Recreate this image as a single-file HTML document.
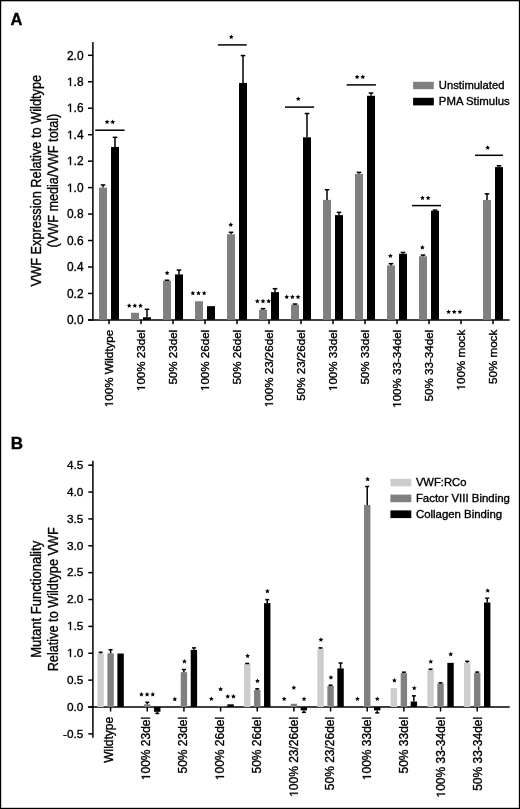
<!DOCTYPE html>
<html><head><meta charset="utf-8"><title>VWF chart</title>
<style>
html,body{margin:0;padding:0;background:#fff;}
body{width:520px;height:809px;overflow:hidden;}
svg{display:block;font-family:"Liberation Sans", sans-serif;filter:grayscale(1);}
text{stroke:#000;stroke-width:0.35px;}
.one polygon{fill:#000;stroke:#000;stroke-width:0.35px;}
</style></head>
<body>
<svg width="520" height="809" viewBox="0 0 520 809">
<rect x="0" y="0" width="520" height="809" fill="#fff"/>
<rect x="0.00" y="0.00" width="520.00" height="1.30" fill="#000"/>
<rect x="0.00" y="0.00" width="1.20" height="809.00" fill="#000"/>
<rect x="518.85" y="0.00" width="1.15" height="809.00" fill="#000"/>
<rect x="0.00" y="807.80" width="520.00" height="1.20" fill="#000"/>
<text x="10.60" y="25.30" font-size="16.5" text-anchor="start" font-weight="bold">A</text>
<line x1="92.90" y1="42.00" x2="92.90" y2="320.65" stroke="#000" stroke-width="1.5"/>
<line x1="88.00" y1="319.90" x2="509.60" y2="319.90" stroke="#000" stroke-width="1.5"/>
<line x1="88.00" y1="319.90" x2="92.90" y2="319.90" stroke="#000" stroke-width="1.5"/>
<text x="83.50" y="324.10" font-size="11.9" text-anchor="end">0.0</text>
<line x1="88.00" y1="293.44" x2="92.90" y2="293.44" stroke="#000" stroke-width="1.5"/>
<text x="83.50" y="297.64" font-size="11.9" text-anchor="end">0.2</text>
<line x1="88.00" y1="266.98" x2="92.90" y2="266.98" stroke="#000" stroke-width="1.5"/>
<text x="83.50" y="271.18" font-size="11.9" text-anchor="end">0.4</text>
<line x1="88.00" y1="240.52" x2="92.90" y2="240.52" stroke="#000" stroke-width="1.5"/>
<text x="83.50" y="244.72" font-size="11.9" text-anchor="end">0.6</text>
<line x1="88.00" y1="214.06" x2="92.90" y2="214.06" stroke="#000" stroke-width="1.5"/>
<text x="83.50" y="218.26" font-size="11.9" text-anchor="end">0.8</text>
<line x1="88.00" y1="187.60" x2="92.90" y2="187.60" stroke="#000" stroke-width="1.5"/>
<text x="83.50" y="191.80" font-size="11.9" text-anchor="end"> .0</text>
<line x1="88.00" y1="161.14" x2="92.90" y2="161.14" stroke="#000" stroke-width="1.5"/>
<text x="83.50" y="165.34" font-size="11.9" text-anchor="end"> .2</text>
<line x1="88.00" y1="134.68" x2="92.90" y2="134.68" stroke="#000" stroke-width="1.5"/>
<text x="83.50" y="138.88" font-size="11.9" text-anchor="end"> .4</text>
<line x1="88.00" y1="108.22" x2="92.90" y2="108.22" stroke="#000" stroke-width="1.5"/>
<text x="83.50" y="112.42" font-size="11.9" text-anchor="end"> .6</text>
<line x1="88.00" y1="81.76" x2="92.90" y2="81.76" stroke="#000" stroke-width="1.5"/>
<text x="83.50" y="85.96" font-size="11.9" text-anchor="end"> .8</text>
<line x1="88.00" y1="55.30" x2="92.90" y2="55.30" stroke="#000" stroke-width="1.5"/>
<text x="83.50" y="59.50" font-size="11.9" text-anchor="end">2.0</text>
<text x="40.60" y="180.60" font-size="14.6" text-anchor="middle" textLength="211.60" lengthAdjust="spacingAndGlyphs" transform="rotate(-90 40.60 180.60)">VWF Expression Relative to Wildtype</text>
<text x="58.40" y="180.60" font-size="14.6" text-anchor="middle" textLength="133.80" lengthAdjust="spacingAndGlyphs" transform="rotate(-90 58.40 180.60)">(VWF media/VWF total)</text>
<line x1="109.00" y1="319.90" x2="109.00" y2="324.20" stroke="#000" stroke-width="1.5"/>
<text x="113.20" y="329.80" font-size="11.6" text-anchor="end" transform="rotate(-90 113.20 329.80)"> 00% Wildtype</text>
<rect x="99.00" y="187.60" width="8.00" height="132.30" fill="#808080"/>
<line x1="103.00" y1="187.60" x2="103.00" y2="184.95" stroke="#000" stroke-width="1.5"/>
<line x1="100.70" y1="184.95" x2="105.30" y2="184.95" stroke="#000" stroke-width="1.5"/>
<rect x="111.00" y="146.98" width="8.00" height="172.92" fill="#000"/>
<line x1="115.00" y1="146.98" x2="115.00" y2="137.33" stroke="#000" stroke-width="1.5"/>
<line x1="112.70" y1="137.33" x2="117.30" y2="137.33" stroke="#000" stroke-width="1.5"/>
<line x1="141.00" y1="319.90" x2="141.00" y2="324.20" stroke="#000" stroke-width="1.5"/>
<text x="145.20" y="329.80" font-size="11.6" text-anchor="end" transform="rotate(-90 145.20 329.80)"> 00% 23del</text>
<rect x="131.00" y="312.76" width="8.00" height="7.14" fill="#808080"/>
<rect x="143.00" y="317.25" width="8.00" height="2.65" fill="#000"/>
<line x1="147.00" y1="317.25" x2="147.00" y2="309.32" stroke="#000" stroke-width="1.5"/>
<line x1="144.70" y1="309.32" x2="149.30" y2="309.32" stroke="#000" stroke-width="1.5"/>
<line x1="173.00" y1="319.90" x2="173.00" y2="324.20" stroke="#000" stroke-width="1.5"/>
<text x="177.20" y="329.80" font-size="11.6" text-anchor="end" transform="rotate(-90 177.20 329.80)">50% 23del</text>
<rect x="163.00" y="280.74" width="8.00" height="39.16" fill="#808080"/>
<line x1="167.00" y1="280.74" x2="167.00" y2="280.21" stroke="#000" stroke-width="1.5"/>
<line x1="164.70" y1="280.21" x2="169.30" y2="280.21" stroke="#000" stroke-width="1.5"/>
<rect x="175.00" y="274.39" width="8.00" height="45.51" fill="#000"/>
<line x1="179.00" y1="274.39" x2="179.00" y2="270.02" stroke="#000" stroke-width="1.5"/>
<line x1="176.70" y1="270.02" x2="181.30" y2="270.02" stroke="#000" stroke-width="1.5"/>
<line x1="205.00" y1="319.90" x2="205.00" y2="324.20" stroke="#000" stroke-width="1.5"/>
<text x="209.20" y="329.80" font-size="11.6" text-anchor="end" transform="rotate(-90 209.20 329.80)"> 00% 26del</text>
<rect x="195.00" y="301.25" width="8.00" height="18.65" fill="#808080"/>
<rect x="207.00" y="306.14" width="8.00" height="13.76" fill="#000"/>
<line x1="237.00" y1="319.90" x2="237.00" y2="324.20" stroke="#000" stroke-width="1.5"/>
<text x="241.20" y="329.80" font-size="11.6" text-anchor="end" transform="rotate(-90 241.20 329.80)">50% 26del</text>
<rect x="227.00" y="234.30" width="8.00" height="85.60" fill="#808080"/>
<line x1="231.00" y1="234.30" x2="231.00" y2="232.32" stroke="#000" stroke-width="1.5"/>
<line x1="228.70" y1="232.32" x2="233.30" y2="232.32" stroke="#000" stroke-width="1.5"/>
<rect x="239.00" y="82.95" width="8.00" height="236.95" fill="#000"/>
<line x1="243.00" y1="82.95" x2="243.00" y2="55.56" stroke="#000" stroke-width="1.5"/>
<line x1="240.70" y1="55.56" x2="245.30" y2="55.56" stroke="#000" stroke-width="1.5"/>
<line x1="269.00" y1="319.90" x2="269.00" y2="324.20" stroke="#000" stroke-width="1.5"/>
<text x="273.20" y="329.80" font-size="11.6" text-anchor="end" transform="rotate(-90 273.20 329.80)"> 00% 23/26del</text>
<rect x="259.00" y="309.71" width="8.00" height="10.19" fill="#808080"/>
<line x1="263.00" y1="309.71" x2="263.00" y2="308.65" stroke="#000" stroke-width="1.5"/>
<line x1="260.70" y1="308.65" x2="265.30" y2="308.65" stroke="#000" stroke-width="1.5"/>
<rect x="271.00" y="292.12" width="8.00" height="27.78" fill="#000"/>
<line x1="275.00" y1="292.12" x2="275.00" y2="288.68" stroke="#000" stroke-width="1.5"/>
<line x1="272.70" y1="288.68" x2="277.30" y2="288.68" stroke="#000" stroke-width="1.5"/>
<line x1="301.00" y1="319.90" x2="301.00" y2="324.20" stroke="#000" stroke-width="1.5"/>
<text x="305.20" y="329.80" font-size="11.6" text-anchor="end" transform="rotate(-90 305.20 329.80)">50% 23/26del</text>
<rect x="291.00" y="304.69" width="8.00" height="15.21" fill="#808080"/>
<line x1="295.00" y1="304.69" x2="295.00" y2="304.02" stroke="#000" stroke-width="1.5"/>
<line x1="292.70" y1="304.02" x2="297.30" y2="304.02" stroke="#000" stroke-width="1.5"/>
<rect x="303.00" y="137.33" width="8.00" height="182.57" fill="#000"/>
<line x1="307.00" y1="137.33" x2="307.00" y2="113.51" stroke="#000" stroke-width="1.5"/>
<line x1="304.70" y1="113.51" x2="309.30" y2="113.51" stroke="#000" stroke-width="1.5"/>
<line x1="333.00" y1="319.90" x2="333.00" y2="324.20" stroke="#000" stroke-width="1.5"/>
<text x="337.20" y="329.80" font-size="11.6" text-anchor="end" transform="rotate(-90 337.20 329.80)"> 00% 33del</text>
<rect x="323.00" y="199.90" width="8.00" height="120.00" fill="#808080"/>
<line x1="327.00" y1="199.90" x2="327.00" y2="189.72" stroke="#000" stroke-width="1.5"/>
<line x1="324.70" y1="189.72" x2="329.30" y2="189.72" stroke="#000" stroke-width="1.5"/>
<rect x="335.00" y="215.12" width="8.00" height="104.78" fill="#000"/>
<line x1="339.00" y1="215.12" x2="339.00" y2="212.34" stroke="#000" stroke-width="1.5"/>
<line x1="336.70" y1="212.34" x2="341.30" y2="212.34" stroke="#000" stroke-width="1.5"/>
<line x1="365.00" y1="319.90" x2="365.00" y2="324.20" stroke="#000" stroke-width="1.5"/>
<text x="369.20" y="329.80" font-size="11.6" text-anchor="end" transform="rotate(-90 369.20 329.80)">50% 33del</text>
<rect x="355.00" y="173.84" width="8.00" height="146.06" fill="#808080"/>
<line x1="359.00" y1="173.84" x2="359.00" y2="172.39" stroke="#000" stroke-width="1.5"/>
<line x1="356.70" y1="172.39" x2="361.30" y2="172.39" stroke="#000" stroke-width="1.5"/>
<rect x="367.00" y="95.78" width="8.00" height="224.12" fill="#000"/>
<line x1="371.00" y1="95.78" x2="371.00" y2="93.01" stroke="#000" stroke-width="1.5"/>
<line x1="368.70" y1="93.01" x2="373.30" y2="93.01" stroke="#000" stroke-width="1.5"/>
<line x1="397.00" y1="319.90" x2="397.00" y2="324.20" stroke="#000" stroke-width="1.5"/>
<text x="401.20" y="329.80" font-size="11.6" text-anchor="end" transform="rotate(-90 401.20 329.80)"> 00% 33-34del</text>
<rect x="387.00" y="265.39" width="8.00" height="54.51" fill="#808080"/>
<line x1="391.00" y1="265.39" x2="391.00" y2="263.67" stroke="#000" stroke-width="1.5"/>
<line x1="388.70" y1="263.67" x2="393.30" y2="263.67" stroke="#000" stroke-width="1.5"/>
<rect x="399.00" y="253.75" width="8.00" height="66.15" fill="#000"/>
<line x1="403.00" y1="253.75" x2="403.00" y2="252.43" stroke="#000" stroke-width="1.5"/>
<line x1="400.70" y1="252.43" x2="405.30" y2="252.43" stroke="#000" stroke-width="1.5"/>
<line x1="429.00" y1="319.90" x2="429.00" y2="324.20" stroke="#000" stroke-width="1.5"/>
<text x="433.20" y="329.80" font-size="11.6" text-anchor="end" transform="rotate(-90 433.20 329.80)">50% 33-34del</text>
<rect x="419.00" y="256.26" width="8.00" height="63.64" fill="#808080"/>
<line x1="423.00" y1="256.26" x2="423.00" y2="255.07" stroke="#000" stroke-width="1.5"/>
<line x1="420.70" y1="255.07" x2="425.30" y2="255.07" stroke="#000" stroke-width="1.5"/>
<rect x="431.00" y="210.75" width="8.00" height="109.15" fill="#000"/>
<line x1="435.00" y1="210.75" x2="435.00" y2="210.09" stroke="#000" stroke-width="1.5"/>
<line x1="432.70" y1="210.09" x2="437.30" y2="210.09" stroke="#000" stroke-width="1.5"/>
<line x1="461.00" y1="319.90" x2="461.00" y2="324.20" stroke="#000" stroke-width="1.5"/>
<text x="465.20" y="329.80" font-size="11.6" text-anchor="end" transform="rotate(-90 465.20 329.80)"> 00% mock</text>
<line x1="493.00" y1="319.90" x2="493.00" y2="324.20" stroke="#000" stroke-width="1.5"/>
<text x="497.20" y="329.80" font-size="11.6" text-anchor="end" transform="rotate(-90 497.20 329.80)">50% mock</text>
<rect x="483.00" y="200.04" width="8.00" height="119.86" fill="#808080"/>
<line x1="487.00" y1="200.04" x2="487.00" y2="193.82" stroke="#000" stroke-width="1.5"/>
<line x1="484.70" y1="193.82" x2="489.30" y2="193.82" stroke="#000" stroke-width="1.5"/>
<rect x="495.00" y="167.09" width="8.00" height="152.81" fill="#000"/>
<line x1="499.00" y1="167.09" x2="499.00" y2="165.77" stroke="#000" stroke-width="1.5"/>
<line x1="496.70" y1="165.77" x2="501.30" y2="165.77" stroke="#000" stroke-width="1.5"/>
<line x1="95.20" y1="130.20" x2="124.60" y2="130.20" stroke="#000" stroke-width="1.5"/>
<polygon points="107.08,119.54 107.78,121.07 109.45,121.27 108.22,122.41 108.54,124.06 107.08,123.24 105.61,124.06 105.93,122.41 104.70,121.27 106.37,121.07" fill="#000"/>
<polygon points="112.73,119.54 113.43,121.07 115.10,121.27 113.87,122.41 114.19,124.06 112.73,123.24 111.26,124.06 111.58,122.41 110.35,121.27 112.02,121.07" fill="#000"/>
<polygon points="129.20,303.19 129.91,304.72 131.58,304.92 130.34,306.06 130.67,307.71 129.20,306.89 127.73,307.71 128.06,306.06 126.82,304.92 128.49,304.72" fill="#000"/>
<polygon points="134.85,303.19 135.56,304.72 137.23,304.92 135.99,306.06 136.32,307.71 134.85,306.89 133.38,307.71 133.71,306.06 132.47,304.92 134.14,304.72" fill="#000"/>
<polygon points="140.50,303.19 141.21,304.72 142.88,304.92 141.64,306.06 141.97,307.71 140.50,306.89 139.03,307.71 139.36,306.06 138.12,304.92 139.79,304.72" fill="#000"/>
<polygon points="167.10,270.44 167.81,271.97 169.48,272.17 168.24,273.31 168.57,274.96 167.10,274.14 165.63,274.96 165.96,273.31 164.72,272.17 166.39,271.97" fill="#000"/>
<polygon points="192.85,290.74 193.56,292.27 195.23,292.47 193.99,293.61 194.32,295.26 192.85,294.44 191.38,295.26 191.71,293.61 190.47,292.47 192.14,292.27" fill="#000"/>
<polygon points="198.50,290.74 199.21,292.27 200.88,292.47 199.64,293.61 199.97,295.26 198.50,294.44 197.03,295.26 197.36,293.61 196.12,292.47 197.79,292.27" fill="#000"/>
<polygon points="204.15,290.74 204.86,292.27 206.53,292.47 205.29,293.61 205.62,295.26 204.15,294.44 202.68,295.26 203.01,293.61 201.77,292.47 203.44,292.27" fill="#000"/>
<polygon points="230.75,222.34 231.46,223.87 233.13,224.07 231.89,225.21 232.22,226.86 230.75,226.04 229.28,226.86 229.61,225.21 228.37,224.07 230.04,223.87" fill="#000"/>
<line x1="217.90" y1="44.90" x2="246.70" y2="44.90" stroke="#000" stroke-width="1.5"/>
<polygon points="231.25,34.49 231.96,36.02 233.63,36.22 232.39,37.36 232.72,39.01 231.25,38.19 229.78,39.01 230.11,37.36 228.87,36.22 230.54,36.02" fill="#000"/>
<polygon points="257.35,298.84 258.06,300.37 259.73,300.57 258.49,301.71 258.82,303.36 257.35,302.54 255.88,303.36 256.21,301.71 254.97,300.57 256.64,300.37" fill="#000"/>
<polygon points="263.00,298.84 263.71,300.37 265.38,300.57 264.14,301.71 264.47,303.36 263.00,302.54 261.53,303.36 261.86,301.71 260.62,300.57 262.29,300.37" fill="#000"/>
<polygon points="268.65,298.84 269.36,300.37 271.03,300.57 269.79,301.71 270.12,303.36 268.65,302.54 267.18,303.36 267.51,301.71 266.27,300.57 267.94,300.37" fill="#000"/>
<polygon points="286.75,294.49 287.46,296.02 289.13,296.22 287.89,297.36 288.22,299.01 286.75,298.19 285.28,299.01 285.61,297.36 284.37,296.22 286.04,296.02" fill="#000"/>
<polygon points="292.40,294.49 293.11,296.02 294.78,296.22 293.54,297.36 293.87,299.01 292.40,298.19 290.93,299.01 291.26,297.36 290.02,296.22 291.69,296.02" fill="#000"/>
<polygon points="298.05,294.49 298.76,296.02 300.43,296.22 299.19,297.36 299.52,299.01 298.05,298.19 296.58,299.01 296.91,297.36 295.67,296.22 297.34,296.02" fill="#000"/>
<line x1="285.00" y1="107.10" x2="314.10" y2="107.10" stroke="#000" stroke-width="1.5"/>
<polygon points="298.25,96.39 298.96,97.92 300.63,98.12 299.39,99.26 299.72,100.91 298.25,100.09 296.78,100.91 297.11,99.26 295.87,98.12 297.54,97.92" fill="#000"/>
<line x1="346.60" y1="84.90" x2="375.90" y2="84.90" stroke="#000" stroke-width="1.5"/>
<polygon points="357.12,74.54 357.83,76.07 359.50,76.27 358.27,77.41 358.59,79.06 357.12,78.24 355.66,79.06 355.98,77.41 354.75,76.27 356.42,76.07" fill="#000"/>
<polygon points="362.77,74.54 363.48,76.07 365.15,76.27 363.92,77.41 364.24,79.06 362.77,78.24 361.31,79.06 361.63,77.41 360.40,76.27 362.07,76.07" fill="#000"/>
<polygon points="390.40,253.39 391.11,254.92 392.78,255.12 391.54,256.26 391.87,257.91 390.40,257.09 388.93,257.91 389.26,256.26 388.02,255.12 389.69,254.92" fill="#000"/>
<polygon points="422.40,244.94 423.11,246.47 424.78,246.67 423.54,247.81 423.87,249.46 422.40,248.64 420.93,249.46 421.26,247.81 420.02,246.67 421.69,246.47" fill="#000"/>
<line x1="411.90" y1="205.60" x2="441.00" y2="205.60" stroke="#000" stroke-width="1.5"/>
<polygon points="422.48,195.44 423.18,196.97 424.85,197.17 423.62,198.31 423.94,199.96 422.48,199.14 421.01,199.96 421.33,198.31 420.10,197.17 421.77,196.97" fill="#000"/>
<polygon points="428.12,195.44 428.83,196.97 430.50,197.17 429.27,198.31 429.59,199.96 428.12,199.14 426.66,199.96 426.98,198.31 425.75,197.17 427.42,196.97" fill="#000"/>
<polygon points="448.60,309.39 449.31,310.92 450.98,311.12 449.74,312.26 450.07,313.91 448.60,313.09 447.13,313.91 447.46,312.26 446.22,311.12 447.89,310.92" fill="#000"/>
<polygon points="454.25,309.39 454.96,310.92 456.63,311.12 455.39,312.26 455.72,313.91 454.25,313.09 452.78,313.91 453.11,312.26 451.87,311.12 453.54,310.92" fill="#000"/>
<polygon points="459.90,309.39 460.61,310.92 462.28,311.12 461.04,312.26 461.37,313.91 459.90,313.09 458.43,313.91 458.76,312.26 457.52,311.12 459.19,310.92" fill="#000"/>
<line x1="475.00" y1="155.30" x2="503.00" y2="155.30" stroke="#000" stroke-width="1.5"/>
<polygon points="487.65,145.24 488.36,146.77 490.03,146.97 488.79,148.11 489.12,149.76 487.65,148.94 486.18,149.76 486.51,148.11 485.27,146.97 486.94,146.77" fill="#000"/>
<rect x="413.10" y="81.80" width="20.70" height="7.40" fill="#808080"/>
<rect x="413.10" y="97.80" width="20.70" height="7.60" fill="#000"/>
<text x="438.80" y="89.40" font-size="11.6" text-anchor="start" textLength="65.60" lengthAdjust="spacingAndGlyphs">Unstimulated</text>
<text x="438.80" y="105.40" font-size="11.6" text-anchor="start" textLength="70.90" lengthAdjust="spacingAndGlyphs">PMA Stimulus</text>
<text x="10.80" y="449.30" font-size="17" text-anchor="start" font-weight="bold">B</text>
<line x1="92.90" y1="460.80" x2="92.90" y2="737.70" stroke="#000" stroke-width="1.5"/>
<line x1="88.30" y1="707.00" x2="509.70" y2="707.00" stroke="#000" stroke-width="1.5"/>
<line x1="88.30" y1="733.87" x2="92.90" y2="733.87" stroke="#000" stroke-width="1.5"/>
<text x="83.40" y="737.67" font-size="11.8" text-anchor="end">-0.5</text>
<line x1="88.30" y1="707.00" x2="92.90" y2="707.00" stroke="#000" stroke-width="1.5"/>
<text x="83.40" y="710.80" font-size="11.8" text-anchor="end">0.0</text>
<line x1="88.30" y1="680.13" x2="92.90" y2="680.13" stroke="#000" stroke-width="1.5"/>
<text x="83.40" y="683.93" font-size="11.8" text-anchor="end">0.5</text>
<line x1="88.30" y1="653.26" x2="92.90" y2="653.26" stroke="#000" stroke-width="1.5"/>
<text x="83.40" y="657.06" font-size="11.8" text-anchor="end"> .0</text>
<line x1="88.30" y1="626.39" x2="92.90" y2="626.39" stroke="#000" stroke-width="1.5"/>
<text x="83.40" y="630.19" font-size="11.8" text-anchor="end"> .5</text>
<line x1="88.30" y1="599.52" x2="92.90" y2="599.52" stroke="#000" stroke-width="1.5"/>
<text x="83.40" y="603.32" font-size="11.8" text-anchor="end">2.0</text>
<line x1="88.30" y1="572.65" x2="92.90" y2="572.65" stroke="#000" stroke-width="1.5"/>
<text x="83.40" y="576.45" font-size="11.8" text-anchor="end">2.5</text>
<line x1="88.30" y1="545.78" x2="92.90" y2="545.78" stroke="#000" stroke-width="1.5"/>
<text x="83.40" y="549.58" font-size="11.8" text-anchor="end">3.0</text>
<line x1="88.30" y1="518.91" x2="92.90" y2="518.91" stroke="#000" stroke-width="1.5"/>
<text x="83.40" y="522.71" font-size="11.8" text-anchor="end">3.5</text>
<line x1="88.30" y1="492.04" x2="92.90" y2="492.04" stroke="#000" stroke-width="1.5"/>
<text x="83.40" y="495.84" font-size="11.8" text-anchor="end">4.0</text>
<line x1="88.30" y1="465.17" x2="92.90" y2="465.17" stroke="#000" stroke-width="1.5"/>
<text x="83.40" y="468.97" font-size="11.8" text-anchor="end">4.5</text>
<text x="40.60" y="599.30" font-size="14.6" text-anchor="middle" textLength="117.00" lengthAdjust="spacingAndGlyphs" transform="rotate(-90 40.60 599.30)">Mutant Functionality</text>
<text x="58.50" y="599.30" font-size="14.6" text-anchor="middle" textLength="144.00" lengthAdjust="spacingAndGlyphs" transform="rotate(-90 58.50 599.30)">Relative to Wildtype VWF</text>
<line x1="110.60" y1="707.00" x2="110.60" y2="711.50" stroke="#000" stroke-width="1.5"/>
<text x="113.15" y="716.80" font-size="12" text-anchor="end" transform="rotate(-90 113.15 716.80)">Wildtype</text>
<rect x="97.40" y="653.53" width="6.40" height="53.47" fill="#cdcdcd"/>
<line x1="100.60" y1="653.53" x2="100.60" y2="652.29" stroke="#000" stroke-width="1.5"/>
<line x1="98.60" y1="652.29" x2="102.60" y2="652.29" stroke="#000" stroke-width="1.5"/>
<rect x="107.40" y="653.26" width="6.40" height="53.74" fill="#808080"/>
<line x1="110.60" y1="653.26" x2="110.60" y2="649.71" stroke="#000" stroke-width="1.5"/>
<line x1="108.60" y1="649.71" x2="112.60" y2="649.71" stroke="#000" stroke-width="1.5"/>
<rect x="117.40" y="653.53" width="6.40" height="53.47" fill="#000"/>
<line x1="147.26" y1="707.00" x2="147.26" y2="711.50" stroke="#000" stroke-width="1.5"/>
<text x="149.81" y="716.80" font-size="12" text-anchor="end" transform="rotate(-90 149.81 716.80)"> 00% 23del</text>
<rect x="144.06" y="704.31" width="6.40" height="2.69" fill="#808080"/>
<line x1="147.26" y1="704.31" x2="147.26" y2="702.32" stroke="#000" stroke-width="1.5"/>
<line x1="145.26" y1="702.32" x2="149.26" y2="702.32" stroke="#000" stroke-width="1.5"/>
<rect x="154.06" y="707.00" width="6.40" height="4.84" fill="#000"/>
<line x1="157.26" y1="711.84" x2="157.26" y2="713.45" stroke="#000" stroke-width="1.5"/>
<line x1="155.26" y1="713.45" x2="159.26" y2="713.45" stroke="#000" stroke-width="1.5"/>
<line x1="183.92" y1="707.00" x2="183.92" y2="711.50" stroke="#000" stroke-width="1.5"/>
<text x="186.77" y="716.80" font-size="12" text-anchor="end" transform="rotate(-90 186.77 716.80)">50% 23del</text>
<rect x="180.72" y="672.18" width="6.40" height="34.82" fill="#808080"/>
<line x1="183.92" y1="672.18" x2="183.92" y2="669.49" stroke="#000" stroke-width="1.5"/>
<line x1="181.92" y1="669.49" x2="185.92" y2="669.49" stroke="#000" stroke-width="1.5"/>
<rect x="190.72" y="649.87" width="6.40" height="57.13" fill="#000"/>
<line x1="193.92" y1="649.87" x2="193.92" y2="647.89" stroke="#000" stroke-width="1.5"/>
<line x1="191.92" y1="647.89" x2="195.92" y2="647.89" stroke="#000" stroke-width="1.5"/>
<line x1="220.58" y1="707.00" x2="220.58" y2="711.50" stroke="#000" stroke-width="1.5"/>
<text x="223.63" y="716.80" font-size="12" text-anchor="end" transform="rotate(-90 223.63 716.80)"> 00% 26del</text>
<rect x="217.38" y="706.46" width="6.40" height="0.54" fill="#808080"/>
<rect x="227.38" y="704.31" width="6.40" height="2.69" fill="#000"/>
<line x1="257.24" y1="707.00" x2="257.24" y2="711.50" stroke="#000" stroke-width="1.5"/>
<text x="261.29" y="716.80" font-size="12" text-anchor="end" transform="rotate(-90 261.29 716.80)">50% 26del</text>
<rect x="244.04" y="663.90" width="6.40" height="43.10" fill="#cdcdcd"/>
<line x1="247.24" y1="663.90" x2="247.24" y2="663.47" stroke="#000" stroke-width="1.5"/>
<line x1="245.24" y1="663.47" x2="249.24" y2="663.47" stroke="#000" stroke-width="1.5"/>
<rect x="254.04" y="689.91" width="6.40" height="17.09" fill="#808080"/>
<line x1="257.24" y1="689.91" x2="257.24" y2="688.73" stroke="#000" stroke-width="1.5"/>
<line x1="255.24" y1="688.73" x2="259.24" y2="688.73" stroke="#000" stroke-width="1.5"/>
<rect x="264.04" y="603.12" width="6.40" height="103.88" fill="#000"/>
<line x1="267.24" y1="603.12" x2="267.24" y2="599.63" stroke="#000" stroke-width="1.5"/>
<line x1="265.24" y1="599.63" x2="269.24" y2="599.63" stroke="#000" stroke-width="1.5"/>
<line x1="293.90" y1="707.00" x2="293.90" y2="711.50" stroke="#000" stroke-width="1.5"/>
<text x="298.45" y="716.80" font-size="12" text-anchor="end" transform="rotate(-90 298.45 716.80)"> 00% 23/26del</text>
<rect x="290.70" y="703.78" width="6.40" height="3.22" fill="#808080"/>
<rect x="300.70" y="707.00" width="6.40" height="3.39" fill="#000"/>
<line x1="303.90" y1="710.39" x2="303.90" y2="712.37" stroke="#000" stroke-width="1.5"/>
<line x1="301.90" y1="712.37" x2="305.90" y2="712.37" stroke="#000" stroke-width="1.5"/>
<line x1="330.56" y1="707.00" x2="330.56" y2="711.50" stroke="#000" stroke-width="1.5"/>
<text x="334.01" y="716.80" font-size="12" text-anchor="end" transform="rotate(-90 334.01 716.80)">50% 23/26del</text>
<rect x="317.36" y="648.58" width="6.40" height="58.42" fill="#cdcdcd"/>
<line x1="320.56" y1="648.58" x2="320.56" y2="647.89" stroke="#000" stroke-width="1.5"/>
<line x1="318.56" y1="647.89" x2="322.56" y2="647.89" stroke="#000" stroke-width="1.5"/>
<rect x="327.36" y="686.04" width="6.40" height="20.96" fill="#808080"/>
<line x1="330.56" y1="686.04" x2="330.56" y2="685.24" stroke="#000" stroke-width="1.5"/>
<line x1="328.56" y1="685.24" x2="332.56" y2="685.24" stroke="#000" stroke-width="1.5"/>
<rect x="337.36" y="668.41" width="6.40" height="38.59" fill="#000"/>
<line x1="340.56" y1="668.41" x2="340.56" y2="663.04" stroke="#000" stroke-width="1.5"/>
<line x1="338.56" y1="663.04" x2="342.56" y2="663.04" stroke="#000" stroke-width="1.5"/>
<line x1="367.22" y1="707.00" x2="367.22" y2="711.50" stroke="#000" stroke-width="1.5"/>
<text x="370.77" y="716.80" font-size="12" text-anchor="end" transform="rotate(-90 370.77 716.80)"> 00% 33del</text>
<rect x="364.02" y="504.99" width="6.40" height="202.01" fill="#808080"/>
<line x1="367.22" y1="504.99" x2="367.22" y2="486.50" stroke="#000" stroke-width="1.5"/>
<line x1="365.22" y1="486.50" x2="369.22" y2="486.50" stroke="#000" stroke-width="1.5"/>
<rect x="374.02" y="707.00" width="6.40" height="3.39" fill="#000"/>
<line x1="377.22" y1="710.39" x2="377.22" y2="712.91" stroke="#000" stroke-width="1.5"/>
<line x1="375.22" y1="712.91" x2="379.22" y2="712.91" stroke="#000" stroke-width="1.5"/>
<line x1="403.88" y1="707.00" x2="403.88" y2="711.50" stroke="#000" stroke-width="1.5"/>
<text x="408.13" y="716.80" font-size="12" text-anchor="end" transform="rotate(-90 408.13 716.80)">50% 33del</text>
<rect x="390.68" y="688.08" width="6.40" height="18.92" fill="#cdcdcd"/>
<rect x="400.68" y="673.09" width="6.40" height="33.91" fill="#808080"/>
<line x1="403.88" y1="673.09" x2="403.88" y2="672.18" stroke="#000" stroke-width="1.5"/>
<line x1="401.88" y1="672.18" x2="405.88" y2="672.18" stroke="#000" stroke-width="1.5"/>
<rect x="410.68" y="701.52" width="6.40" height="5.48" fill="#000"/>
<line x1="413.88" y1="701.52" x2="413.88" y2="695.82" stroke="#000" stroke-width="1.5"/>
<line x1="411.88" y1="695.82" x2="415.88" y2="695.82" stroke="#000" stroke-width="1.5"/>
<line x1="440.54" y1="707.00" x2="440.54" y2="711.50" stroke="#000" stroke-width="1.5"/>
<text x="444.79" y="716.80" font-size="12" text-anchor="end" transform="rotate(-90 444.79 716.80)"> 00% 33-34del</text>
<rect x="427.34" y="670.19" width="6.40" height="36.81" fill="#cdcdcd"/>
<line x1="430.54" y1="670.19" x2="430.54" y2="669.22" stroke="#000" stroke-width="1.5"/>
<line x1="428.54" y1="669.22" x2="432.54" y2="669.22" stroke="#000" stroke-width="1.5"/>
<rect x="437.34" y="683.57" width="6.40" height="23.43" fill="#808080"/>
<line x1="440.54" y1="683.57" x2="440.54" y2="682.82" stroke="#000" stroke-width="1.5"/>
<line x1="438.54" y1="682.82" x2="442.54" y2="682.82" stroke="#000" stroke-width="1.5"/>
<rect x="447.34" y="662.83" width="6.40" height="44.17" fill="#000"/>
<line x1="477.20" y1="707.00" x2="477.20" y2="711.50" stroke="#000" stroke-width="1.5"/>
<text x="481.55" y="716.80" font-size="12" text-anchor="end" transform="rotate(-90 481.55 716.80)">50% 33-34del</text>
<rect x="464.00" y="662.72" width="6.40" height="44.28" fill="#cdcdcd"/>
<line x1="467.20" y1="662.72" x2="467.20" y2="661.32" stroke="#000" stroke-width="1.5"/>
<line x1="465.20" y1="661.32" x2="469.20" y2="661.32" stroke="#000" stroke-width="1.5"/>
<rect x="474.00" y="673.09" width="6.40" height="33.91" fill="#808080"/>
<line x1="477.20" y1="673.09" x2="477.20" y2="672.07" stroke="#000" stroke-width="1.5"/>
<line x1="475.20" y1="672.07" x2="479.20" y2="672.07" stroke="#000" stroke-width="1.5"/>
<rect x="484.00" y="602.48" width="6.40" height="104.52" fill="#000"/>
<line x1="487.20" y1="602.48" x2="487.20" y2="598.18" stroke="#000" stroke-width="1.5"/>
<line x1="485.20" y1="598.18" x2="489.20" y2="598.18" stroke="#000" stroke-width="1.5"/>
<polygon points="141.45,691.99 142.16,693.52 143.83,693.72 142.59,694.86 142.92,696.51 141.45,695.69 139.98,696.51 140.31,694.86 139.07,693.72 140.74,693.52" fill="#000"/>
<polygon points="147.10,691.99 147.81,693.52 149.48,693.72 148.24,694.86 148.57,696.51 147.10,695.69 145.63,696.51 145.96,694.86 144.72,693.72 146.39,693.52" fill="#000"/>
<polygon points="152.75,691.99 153.46,693.52 155.13,693.72 153.89,694.86 154.22,696.51 152.75,695.69 151.28,696.51 151.61,694.86 150.37,693.72 152.04,693.52" fill="#000"/>
<polygon points="174.80,696.74 175.51,698.27 177.18,698.47 175.94,699.61 176.27,701.26 174.80,700.44 173.33,701.26 173.66,699.61 172.42,698.47 174.09,698.27" fill="#000"/>
<polygon points="184.45,659.04 185.16,660.57 186.83,660.77 185.59,661.91 185.92,663.56 184.45,662.74 182.98,663.56 183.31,661.91 182.07,660.77 183.74,660.57" fill="#000"/>
<polygon points="211.35,696.39 212.06,697.92 213.73,698.12 212.49,699.26 212.82,700.91 211.35,700.09 209.88,700.91 210.21,699.26 208.97,698.12 210.64,697.92" fill="#000"/>
<polygon points="220.60,686.79 221.31,688.32 222.98,688.52 221.74,689.66 222.07,691.31 220.60,690.49 219.13,691.31 219.46,689.66 218.22,688.52 219.89,688.32" fill="#000"/>
<polygon points="227.78,694.09 228.48,695.62 230.15,695.82 228.92,696.96 229.24,698.61 227.78,697.79 226.31,698.61 226.63,696.96 225.40,695.82 227.07,695.62" fill="#000"/>
<polygon points="233.42,694.09 234.13,695.62 235.80,695.82 234.57,696.96 234.89,698.61 233.42,697.79 231.96,698.61 232.28,696.96 231.05,695.82 232.72,695.62" fill="#000"/>
<polygon points="247.60,653.44 248.31,654.97 249.98,655.17 248.74,656.31 249.07,657.96 247.60,657.14 246.13,657.96 246.46,656.31 245.22,655.17 246.89,654.97" fill="#000"/>
<polygon points="257.50,678.44 258.21,679.97 259.88,680.17 258.64,681.31 258.97,682.96 257.50,682.14 256.03,682.96 256.36,681.31 255.12,680.17 256.79,679.97" fill="#000"/>
<polygon points="267.40,588.74 268.11,590.27 269.78,590.47 268.54,591.61 268.87,593.26 267.40,592.44 265.93,593.26 266.26,591.61 265.02,590.47 266.69,590.27" fill="#000"/>
<polygon points="284.15,696.59 284.86,698.12 286.53,698.32 285.29,699.46 285.62,701.11 284.15,700.29 282.68,701.11 283.01,699.46 281.77,698.32 283.44,698.12" fill="#000"/>
<polygon points="293.85,685.24 294.56,686.77 296.23,686.97 294.99,688.11 295.32,689.76 293.85,688.94 292.38,689.76 292.71,688.11 291.47,686.97 293.14,686.77" fill="#000"/>
<polygon points="304.05,696.49 304.76,698.02 306.43,698.22 305.19,699.36 305.52,701.01 304.05,700.19 302.58,701.01 302.91,699.36 301.67,698.22 303.34,698.02" fill="#000"/>
<polygon points="320.90,637.34 321.61,638.87 323.28,639.07 322.04,640.21 322.37,641.86 320.90,641.04 319.43,641.86 319.76,640.21 318.52,639.07 320.19,638.87" fill="#000"/>
<polygon points="330.90,675.04 331.61,676.57 333.28,676.77 332.04,677.91 332.37,679.56 330.90,678.74 329.43,679.56 329.76,677.91 328.52,676.77 330.19,676.57" fill="#000"/>
<polygon points="357.50,696.39 358.21,697.92 359.88,698.12 358.64,699.26 358.97,700.91 357.50,700.09 356.03,700.91 356.36,699.26 355.12,698.12 356.79,697.92" fill="#000"/>
<polygon points="367.60,476.69 368.31,478.22 369.98,478.42 368.74,479.56 369.07,481.21 367.60,480.39 366.13,481.21 366.46,479.56 365.22,478.42 366.89,478.22" fill="#000"/>
<polygon points="377.30,696.39 378.01,697.92 379.68,698.12 378.44,699.26 378.77,700.91 377.30,700.09 375.83,700.91 376.16,699.26 374.92,698.12 376.59,697.92" fill="#000"/>
<polygon points="394.40,677.94 395.11,679.47 396.78,679.67 395.54,680.81 395.87,682.46 394.40,681.64 392.93,682.46 393.26,680.81 392.02,679.67 393.69,679.47" fill="#000"/>
<polygon points="414.25,685.64 414.96,687.17 416.63,687.37 415.39,688.51 415.72,690.16 414.25,689.34 412.78,690.16 413.11,688.51 411.87,687.37 413.54,687.17" fill="#000"/>
<polygon points="430.80,659.14 431.51,660.67 433.18,660.87 431.94,662.01 432.27,663.66 430.80,662.84 429.33,663.66 429.66,662.01 428.42,660.87 430.09,660.67" fill="#000"/>
<polygon points="450.70,651.84 451.41,653.37 453.08,653.57 451.84,654.71 452.17,656.36 450.70,655.54 449.23,656.36 449.56,654.71 448.32,653.57 449.99,653.37" fill="#000"/>
<polygon points="487.70,588.14 488.41,589.67 490.08,589.87 488.84,591.01 489.17,592.66 487.70,591.84 486.23,592.66 486.56,591.01 485.32,589.87 486.99,589.67" fill="#000"/>
<rect x="390.40" y="478.80" width="20.90" height="7.50" fill="#cdcdcd"/>
<rect x="390.40" y="494.60" width="20.90" height="7.60" fill="#808080"/>
<rect x="390.40" y="510.40" width="20.90" height="7.70" fill="#000"/>
<text x="415.90" y="486.10" font-size="11.3" text-anchor="start" textLength="50.50" lengthAdjust="spacingAndGlyphs">VWF:RCo</text>
<text x="415.90" y="502.00" font-size="11.3" text-anchor="start" textLength="94.00" lengthAdjust="spacingAndGlyphs">Factor VIII Binding</text>
<text x="415.90" y="517.90" font-size="11.3" text-anchor="start" textLength="86.30" lengthAdjust="spacingAndGlyphs">Collagen Binding</text>
<g class="one"><polygon points="69.961,192.000 69.961,184.812 68.113,186.131 68.113,185.144 70.048,183.813 71.013,183.813 71.013,192.000"/></g>
<g class="one"><polygon points="69.961,165.000 69.961,157.812 68.113,159.131 68.113,158.144 70.048,156.813 71.013,156.813 71.013,165.000"/></g>
<g class="one"><polygon points="69.961,139.000 69.961,131.812 68.113,133.131 68.113,132.144 70.048,130.813 71.013,130.813 71.013,139.000"/></g>
<g class="one"><polygon points="69.961,112.000 69.961,104.812 68.113,106.131 68.113,105.144 70.048,103.813 71.013,103.813 71.013,112.000"/></g>
<g class="one"><polygon points="69.961,86.000 69.961,78.812 68.113,80.131 68.113,79.144 70.048,77.813 71.013,77.813 71.013,86.000"/></g>
<g class="one" transform="rotate(-90 113.20 329.80)"><polygon points="38.773,329.600 38.773,322.594 36.972,323.879 36.972,322.916 38.858,321.619 39.798,321.619 39.798,329.600"/></g>
<g class="one" transform="rotate(-90 145.20 329.80)"><polygon points="86.867,329.600 86.867,322.594 85.066,323.879 85.066,322.916 86.952,321.619 87.892,321.619 87.892,329.600"/></g>
<g class="one" transform="rotate(-90 209.20 329.80)"><polygon points="150.867,329.600 150.867,322.594 149.066,323.879 149.066,322.916 150.952,321.619 151.892,321.619 151.892,329.600"/></g>
<g class="one" transform="rotate(-90 273.20 329.80)"><polygon points="198.758,329.600 198.758,322.594 196.956,323.879 196.956,322.916 198.843,321.619 199.783,321.619 199.783,329.600"/></g>
<g class="one" transform="rotate(-90 337.20 329.80)"><polygon points="278.867,329.600 278.867,322.594 277.066,323.879 277.066,322.916 278.952,321.619 279.892,321.619 279.892,329.600"/></g>
<g class="one" transform="rotate(-90 401.20 329.80)"><polygon points="326.117,329.600 326.117,322.594 324.316,323.879 324.316,322.916 326.202,321.619 327.142,321.619 327.142,329.600"/></g>
<g class="one" transform="rotate(-90 465.20 329.80)"><polygon points="407.539,329.600 407.539,322.594 405.738,323.879 405.738,322.916 407.624,321.619 408.564,321.619 408.564,329.600"/></g>
<g class="one"><polygon points="69.961,657.000 69.961,649.873 68.129,651.181 68.129,650.201 70.047,648.882 71.004,648.882 71.004,657.000"/></g>
<g class="one"><polygon points="69.961,630.000 69.961,622.873 68.129,624.181 68.129,623.201 70.047,621.882 71.004,621.882 71.004,630.000"/></g>
<g class="one" transform="rotate(-90 149.81 716.80)"><polygon points="89.437,716.990 89.437,709.742 87.574,711.072 87.574,710.076 89.525,708.734 90.497,708.734 90.497,716.990"/></g>
<g class="one" transform="rotate(-90 223.63 716.80)"><polygon points="163.257,717.170 163.257,709.922 161.394,711.252 161.394,710.256 163.345,708.914 164.318,708.914 164.318,717.170"/></g>
<g class="one" transform="rotate(-90 298.45 716.80)"><polygon points="221.389,716.350 221.389,709.102 219.526,710.432 219.526,709.436 221.477,708.094 222.450,708.094 222.450,716.350"/></g>
<g class="one" transform="rotate(-90 370.77 716.80)"><polygon points="310.397,717.030 310.397,709.782 308.534,711.112 308.534,710.116 310.485,708.774 311.457,708.774 311.457,717.030"/></g>
<g class="one" transform="rotate(-90 444.79 716.80)"><polygon points="367.073,717.010 367.073,709.762 365.210,711.092 365.210,710.096 367.161,708.754 368.134,708.754 368.134,717.010"/></g>
</svg>
</body></html>
